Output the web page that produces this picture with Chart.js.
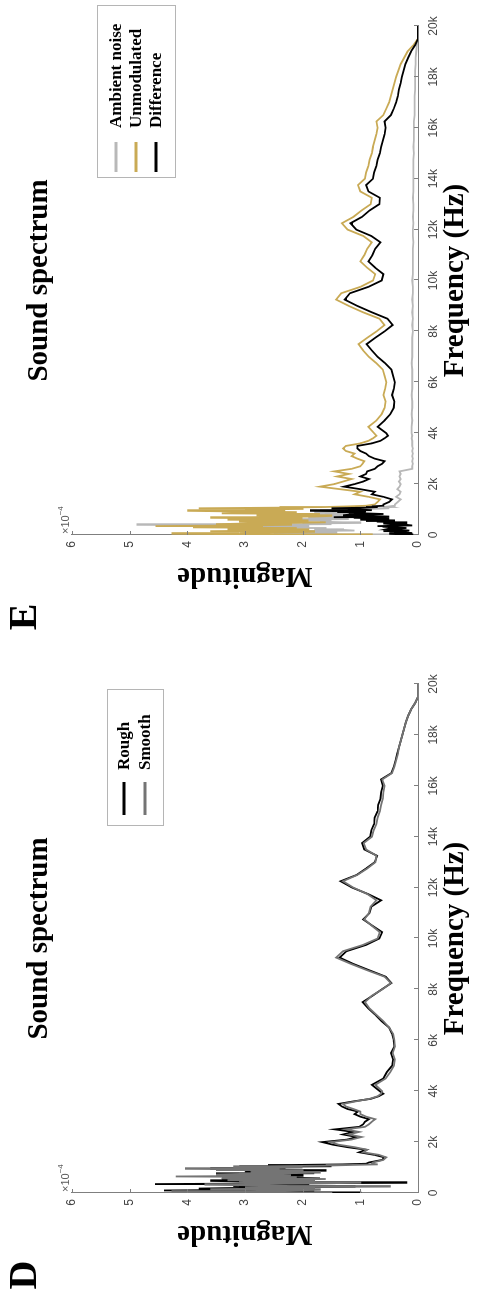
<!DOCTYPE html>
<html>

<head>
  <title>Sound spectrum</title>
  <script src="https://cdn.jsdelivr.net/npm/chart.js"></script>
  <style>
    body { margin: 0; background: #fff; width: 479px; height: 1297px; overflow: hidden; position: relative; }
    .panel { position: absolute; left: 0; top: 0; width: 657px; height: 479px; transform-origin: 0 0; }
    .panel canvas { display: block; }
  </style>
</head>

<body>
  <!-- panels are drawn upright, then turned a quarter turn like the figure -->
  <div class="panel" style="transform: translate(0px, 639px) rotate(-90deg);"><canvas id="chartE" width="657" height="479"></canvas></div>
  <div class="panel" style="transform: translate(0px, 1297px) rotate(-90deg);"><canvas id="chartD" width="657" height="479"></canvas></div>
  <script>
    // frequency in kHz, denser where the spectrum is spiky
    const freqKHz = [
      0, 0.025, 0.05, 0.075, 0.1, 0.125, 0.15, 0.175, 0.2, 0.225, 0.25, 0.275, 0.3, 0.325, 0.35, 0.375, 0.4, 0.425, 0.45, 0.475,
      0.5, 0.525, 0.55, 0.575, 0.6, 0.625, 0.65, 0.675, 0.7, 0.725, 0.75, 0.775, 0.8, 0.825, 0.85, 0.875, 0.9, 0.925, 0.95, 0.975,
      1.0, 1.025, 1.05, 1.075, 1.1, 1.125, 1.15,
      1.2, 1.3, 1.4, 1.5, 1.6, 1.7, 1.8, 1.9, 2.0, 2.1, 2.2, 2.3, 2.4, 2.5, 2.6, 2.7, 2.8, 2.9, 3.0, 3.1, 3.2, 3.3, 3.4, 3.5, 3.6, 3.7, 3.8, 3.9, 4.0,
      4.25, 4.5, 4.75, 5.0, 5.25, 5.5, 5.75, 6.0, 6.25, 6.5, 6.75, 7.0, 7.25, 7.5, 7.75, 8.0, 8.25, 8.5, 8.75, 9.0, 9.25, 9.5, 9.75, 10.0,
      10.25, 10.5, 10.75, 11.0, 11.25, 11.5, 11.75, 12.0, 12.25, 12.5, 12.75, 13.0, 13.25, 13.5, 13.75, 14.0, 14.25, 14.5, 14.75, 15.0,
      15.25, 15.5, 15.75, 16.0, 16.25, 16.5, 16.75, 17.0, 17.25, 17.5, 17.75, 18.0, 18.25, 18.5, 18.75, 19.0, 19.25, 19.5, 19.75, 20.0
    ];
    const xTickLabels = ['0', '2k', '4k', '6k', '8k', '10k', '12k', '14k', '16k', '18k', '20k'];
    const yTickLabels = ['0', '1', '2', '3', '4', '5', '6'];

    // magnitudes in units of 1e-4
    // panel D
    const roughD = [
      1.0, 3.0, 2.6, 1.8, 4.4, 2.9, 2.0, 3.8, 3.1, 2.2, 1.1, 3.2, 2.5, 1.9, 4.56, 2.7, 0.2, 2.0, 2.9, 3.6,
      1.9, 2.7, 3.4, 1.7, 2.3, 3.3, 3.0, 2.0, 2.6, 3.1, 3.5, 1.8, 2.1, 3.0, 2.8, 1.6, 1.9, 2.9, 3.6, 2.3,
      2.4, 3.1, 1.5, 2.6, 2.2, 1.3, 0.9,
      0.85, 0.62, 0.58, 0.76, 1.02, 0.9, 1.22, 1.48, 1.66, 1.22, 1.06, 1.3, 1.12, 1.44, 1.02, 0.95, 0.92, 0.85, 1.0, 1.1, 1.04, 1.22, 1.32, 1.38, 1.12, 0.82, 0.68, 0.6, 0.66,
      0.8, 0.6, 0.54, 0.45, 0.43, 0.47, 0.41, 0.42, 0.45, 0.5, 0.63, 0.74, 0.86, 0.96, 0.79, 0.63, 0.46, 0.56, 0.84, 1.12, 1.36, 1.24, 0.9, 0.67,
      0.62, 0.79, 0.95, 0.84, 0.81, 0.64, 0.87, 1.14, 1.34, 1.06, 0.9, 0.75, 0.71, 0.93, 0.97, 0.83, 0.81, 0.76, 0.75, 0.7,
      0.69, 0.65, 0.64, 0.61, 0.64, 0.46, 0.42, 0.39, 0.36, 0.33, 0.3, 0.27, 0.24, 0.21, 0.17, 0.12, 0.05, 0, 0, 0
    ];
    const smoothD = [
      1.5, 2.7, 4.27, 2.9, 2.2, 1.7, 3.6, 2.5, 1.8, 3.0, 0.49, 2.2, 2.8, 3.7, 3.2, 1.9, 1.0, 3.1, 2.6, 1.8,
      3.3, 2.4, 1.6, 3.4, 2.9, 2.1, 4.2, 2.6, 2.2, 3.5, 3.1, 2.3, 1.7, 2.9, 2.7, 2.0, 3.5, 2.4, 4.04, 2.8,
      2.0, 3.2, 2.6, 1.6, 1.2, 0.7, 0.8,
      0.78, 0.6, 0.55, 0.68, 0.95, 0.88, 1.1, 1.38, 1.52, 1.15, 0.98, 1.2, 1.02, 1.25, 0.92, 0.85, 0.8, 0.74, 0.9, 1.0, 1.0, 1.12, 1.25, 1.3, 1.08, 0.84, 0.7, 0.64, 0.62,
      0.74, 0.56, 0.48, 0.42, 0.4, 0.44, 0.4, 0.41, 0.43, 0.5, 0.6, 0.72, 0.84, 0.92, 0.8, 0.62, 0.47, 0.58, 0.88, 1.16, 1.42, 1.3, 0.95, 0.7,
      0.66, 0.8, 0.93, 0.85, 0.82, 0.72, 0.88, 1.12, 1.3, 1.05, 0.88, 0.74, 0.72, 0.9, 0.94, 0.8, 0.77, 0.72, 0.7, 0.66,
      0.64, 0.61, 0.6, 0.58, 0.62, 0.45, 0.41, 0.38, 0.35, 0.33, 0.3, 0.27, 0.24, 0.21, 0.17, 0.12, 0.05, 0, 0, 0
    ];
    // panel E
    const ambientE = [
      0.5, 1.2, 2.5, 1.6, 1.4, 2.0, 2.2, 1.1, 1.3, 1.8, 1.6, 2.4, 2.6, 1.9, 3.0, 2.2, 4.88, 1.5, 2.0, 1.0,
      1.3, 1.7, 1.5, 2.0, 2.1, 1.2, 1.6, 1.9, 1.2, 0.9, 1.4, 1.8, 2.0, 1.1, 1.3, 1.6, 1.8, 1.0, 1.4, 1.7,
      1.2, 0.8, 0.5, 0.6, 0.45, 0.5, 0.4,
      0.4, 0.35, 0.3, 0.38, 0.32, 0.3, 0.36, 0.32, 0.3, 0.33, 0.3, 0.32, 0.3, 0.32, 0.1, 0.1, 0.09, 0.1, 0.09, 0.1, 0.09, 0.1, 0.09, 0.1, 0.1, 0.1, 0.11, 0.1, 0.11,
      0.11, 0.1, 0.11, 0.1, 0.1, 0.11, 0.1, 0.1, 0.1, 0.1, 0.11, 0.1, 0.1, 0.1, 0.1, 0.09, 0.1, 0.09, 0.1, 0.09, 0.1, 0.09, 0.09, 0.1,
      0.09, 0.09, 0.09, 0.09, 0.09, 0.08, 0.09, 0.09, 0.08, 0.09, 0.08, 0.08, 0.09, 0.08, 0.08, 0.08, 0.08, 0.08, 0.08, 0.07,
      0.08, 0.07, 0.07, 0.07, 0.07, 0.06, 0.06, 0.06, 0.06, 0.05, 0.05, 0.05, 0.05, 0.04, 0.04, 0.03, 0.02, 0, 0, 0
    ];
    const unmodE = [
      0.8, 2.9, 4.27, 3.1, 2.5, 1.8, 3.6, 2.6, 1.9, 3.3, 2.8, 2.1, 3.9, 2.7, 4.55, 3.0, 2.2, 3.5, 3.0, 2.2,
      1.6, 3.1, 2.6, 1.9, 3.3, 2.5, 2.0, 3.6, 2.9, 1.8, 1.5, 2.8, 2.4, 1.7, 3.4, 2.6, 2.1, 3.2, 4.0, 2.3,
      3.0, 2.0, 3.8, 2.4, 1.6, 1.2, 0.9,
      0.75, 0.7, 0.66, 0.86, 1.1, 1.0, 1.35, 1.7, 1.45, 1.3, 1.15, 1.4, 1.2, 1.45, 1.15, 1.0, 0.96, 0.93, 1.05, 1.15, 1.1, 1.25, 1.3, 1.25, 1.0, 0.86, 0.78, 0.72, 0.76,
      0.86, 0.72, 0.63, 0.58, 0.56, 0.6, 0.57, 0.55, 0.58, 0.61, 0.72, 0.85, 0.95, 1.03, 0.88, 0.72, 0.58, 0.67, 0.95, 1.2, 1.42, 1.33, 1.0, 0.78,
      0.74, 0.88, 1.0, 0.93, 0.88, 0.8, 0.95, 1.22, 1.32, 1.12, 0.98, 0.82, 0.8, 1.0, 1.04, 0.92, 0.9, 0.86, 0.84, 0.8,
      0.78, 0.75, 0.72, 0.7, 0.72, 0.6, 0.55, 0.5, 0.47, 0.44, 0.41, 0.38, 0.34, 0.3, 0.24, 0.18, 0.08, 0, 0, 0
    ];
    const diffE = [
      0.1, 0.3, 0.5, 0.1, 0.2, 0.4, 0.6, 0.15, 0.3, 0.55, 0.5, 0.2, 0.4, 0.6, 0.7, 0.1, 0.2, 0.45, 0.6, 0.2,
      0.35, 0.7, 0.9, 0.4, 1.0, 0.6, 0.5, 1.1, 1.46, 0.5, 0.8, 1.3, 1.2, 0.6, 0.9, 1.1, 1.4, 0.9, 1.87, 0.8,
      1.0, 1.2, 1.5, 0.9, 0.7, 0.8, 0.6,
      0.6, 0.5, 0.45, 0.6, 0.8, 0.75, 1.0, 1.28, 1.1, 0.95, 0.85, 1.0, 0.9, 0.88, 0.75, 0.7, 0.62, 0.58, 0.75, 0.85, 0.9, 1.0, 1.05, 1.05, 0.8, 0.65, 0.58, 0.52, 0.55,
      0.7, 0.58, 0.48, 0.42, 0.41, 0.45, 0.42, 0.4, 0.43, 0.46, 0.57, 0.7, 0.8, 0.89, 0.74, 0.58, 0.44, 0.53, 0.8, 1.05, 1.27, 1.18, 0.86, 0.63,
      0.6, 0.74, 0.86, 0.79, 0.74, 0.65, 0.81, 1.07, 1.17, 0.97, 0.84, 0.67, 0.66, 0.86, 0.9, 0.78, 0.76, 0.72, 0.7, 0.66,
      0.64, 0.61, 0.58, 0.56, 0.58, 0.47, 0.42, 0.38, 0.35, 0.33, 0.3, 0.28, 0.25, 0.22, 0.17, 0.12, 0.05, 0, 0, 0
    ];

    const serif = "'Liberation Serif', 'Times New Roman', serif";
    const sans = "'Liberation Sans', Arial, sans-serif";
    const axisGrey = '#7f7f7f';

    function pts(vals) {
      return freqKHz.map((f, i) => ({ x: f, y: vals[i] }));
    }

    // matlab-ish bits: inward ticks, x10^-4, panel letter, boxed legend
    const panelExtras = {
      id: 'panelExtras',
      afterDraw(chart, args, opts) {
        const ctx = chart.ctx, a = chart.chartArea;
        const xs = chart.scales.x, ys = chart.scales.y;
        ctx.save();
        ctx.strokeStyle = axisGrey;
        ctx.lineWidth = 1;
        ctx.beginPath();
        xs.ticks.forEach(t => {
          const px = Math.round(xs.getPixelForValue(t.value)) + 0.5;
          ctx.moveTo(px, a.bottom);
          ctx.lineTo(px, a.bottom - 4);
        });
        ys.ticks.forEach(t => {
          const py = Math.round(ys.getPixelForValue(t.value)) + 0.5;
          ctx.moveTo(a.left, py);
          ctx.lineTo(a.left + 4, py);
        });
        ctx.stroke();

        ctx.fillStyle = '#555';
        ctx.textAlign = 'left';
        ctx.textBaseline = 'alphabetic';
        ctx.font = '11px ' + sans;
        ctx.fillText('×10', a.left + 1, a.top - 3);
        const w = ctx.measureText('×10').width;
        ctx.font = '8px ' + sans;
        ctx.fillText('−4', a.left + 1 + w, a.top - 9);

        ctx.fillStyle = '#000';
        ctx.font = 'bold 40px ' + serif;
        ctx.textAlign = 'center';
        ctx.textBaseline = 'middle';
        ctx.fillText(opts.letter, 22, 26);

        const L = opts.legend;
        ctx.fillStyle = '#fff';
        ctx.fillRect(L.x, L.y, L.w, L.h);
        ctx.strokeStyle = '#b5b5b5';
        ctx.strokeRect(L.x + 0.5, L.y + 0.5, L.w, L.h);
        ctx.font = 'bold 17px ' + serif;
        ctx.textAlign = 'left';
        chart.data.datasets.forEach((ds, i) => {
          const y = L.y + L.first + i * L.step;
          ctx.strokeStyle = ds.borderColor;
          ctx.lineWidth = 3;
          ctx.beginPath();
          ctx.moveTo(L.x + L.lineStart, y);
          ctx.lineTo(L.x + L.lineEnd, y);
          ctx.stroke();
          ctx.fillStyle = '#000';
          ctx.fillText(ds.label, L.x + L.textStart, y + 1);
        });
        ctx.restore();
      }
    };

    function makeChart(id, datasets, extras) {
      return new Chart(document.getElementById(id), {
        type: 'line',
        data: { datasets: datasets },
        plugins: [panelExtras],
        options: {
          responsive: false,
          animation: false,
          layout: { padding: { left: 0, right: 44, top: 0, bottom: 0 } },
          elements: {
            point: { radius: 0 },
            line: { tension: 0, borderWidth: 1.8 }
          },
          plugins: {
            legend: { display: false },
            tooltip: { enabled: false },
            title: {
              display: true,
              text: 'Sound spectrum',
              fullSize: false,
              color: '#000',
              font: { family: serif, size: 29, weight: 'bold' },
              padding: { top: 22, bottom: 15 }
            },
            panelExtras: extras
          },
          scales: {
            x: {
              type: 'linear',
              min: 0,
              max: 20,
              afterFit: s => { s.height = 61; },
              grid: { display: false, drawTicks: false, tickLength: 0 },
              border: { display: true, color: axisGrey, width: 1 },
              ticks: {
                stepSize: 2,
                autoSkip: false,
                maxRotation: 0,
                padding: 8,
                color: '#444',
                font: { family: sans, size: 12 },
                callback: v => xTickLabels[Math.round(v / 2)]
              },
              title: {
                display: true,
                text: 'Frequency (Hz)',
                color: '#000',
                font: { family: serif, size: 29, weight: 'bold' },
                padding: { top: 0, bottom: 6 }
              }
            },
            y: {
              min: 0,
              max: 6,
              afterFit: s => { s.width = 104; },
              grid: { display: false, drawTicks: false, tickLength: 0 },
              border: { display: true, color: axisGrey, width: 1 },
              ticks: {
                stepSize: 1,
                padding: 6,
                color: '#444',
                font: { family: sans, size: 12 },
                callback: v => yTickLabels[v]
              },
              title: {
                display: true,
                text: 'Magnitude',
                color: '#000',
                font: { family: serif, size: 29, weight: 'bold' },
                padding: { top: 46, bottom: 0 }
              }
            }
          }
        }
      });
    }

    makeChart('chartE', [
      { label: 'Ambient noise', data: pts(ambientE), borderColor: '#b8b8b8', order: 2 },
      { label: 'Unmodulated', data: pts(unmodE), borderColor: '#c9aa55', order: 1 },
      { label: 'Difference', data: pts(diffE), borderColor: '#000000', order: 0 }
    ], {
      letter: 'E',
      legend: { x: 461, y: 97, w: 172, h: 78, first: 19, step: 20, lineStart: 6, lineEnd: 36, textStart: 50 }
    });

    makeChart('chartD', [
      { label: 'Rough', data: pts(roughD), borderColor: '#000000', order: 1 },
      { label: 'Smooth', data: pts(smoothD), borderColor: '#747474', order: 0 }
    ], {
      letter: 'D',
      legend: { x: 471, y: 107, w: 136, h: 56, first: 17, step: 21, lineStart: 11, lineEnd: 44, textStart: 56 }
    });
  </script>
</body>

</html>
